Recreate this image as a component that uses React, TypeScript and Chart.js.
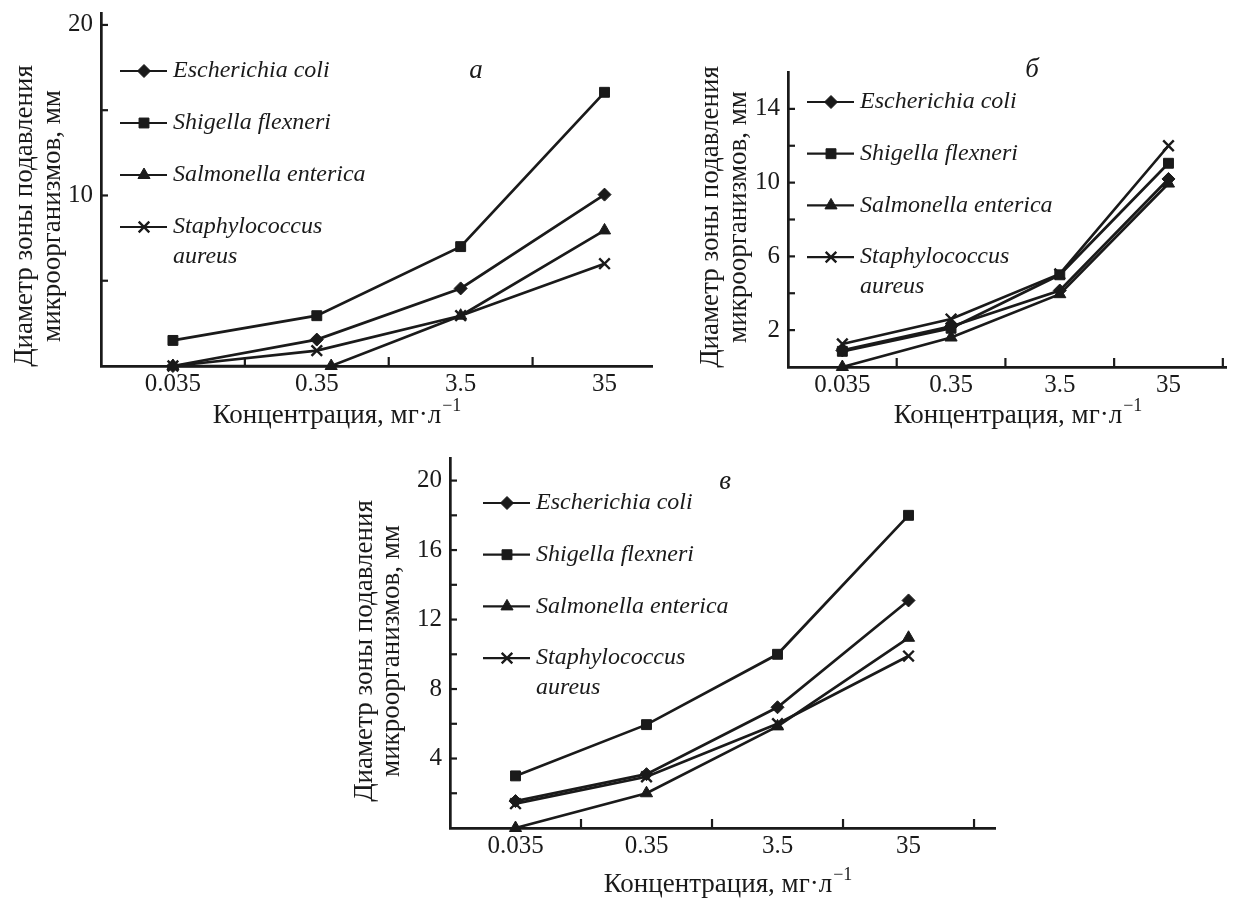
import React, { useEffect, useRef } from "react";
import { Chart, registerables } from "chart.js";
import { drawPoint } from "chart.js/helpers";

Chart.register(...registerables);

// ---------- data ----------
const categories = ["0.035", "0.35", "3.5", "35"];
const categoryPos = [0, 1, 2, 3];
const seriesNames = ["Escherichia coli", "Shigella flexneri", "Salmonella enterica", "Staphylococcus aureus"];
const legendLines = [["Escherichia coli"], ["Shigella flexneri"], ["Salmonella enterica"], ["Staphylococcus", "aureus"]];
const pointStyles = ["rectRot", "rect", "triangle", "crossRot"];

// panel а
const aEcoli = [0, 1.55, 4.55, 10.05];
const aShigella = [1.5, 2.95, 7.0, 16.05];
const aSalmonella = [0, 0, 2.95, 7.95];
const aSalmonellaPos = [0, 1.1, 2, 3];
const aStaph = [0, 0.9, 2.95, 6.0];
const aYLabels = [10, 20];
const aYMinor = [5, 10, 15, 20];

// panel б
const bEcoli = [0.9, 2.2, 4.15, 10.2];
const bShigella = [0.85, 2.1, 5.0, 11.05];
const bSalmonella = [0, 1.6, 3.95, 9.95];
const bStaph = [1.25, 2.6, 5.05, 12.0];
const bYLabels = [2, 6, 10, 14];
const bYMinor = [2, 4, 6, 8, 10, 12, 14];

// panel в
const cEcoli = [1.55, 3.1, 6.95, 13.1];
const cShigella = [3.0, 5.95, 10.0, 18.0];
const cSalmonella = [0, 2.0, 5.85, 10.95];
const cStaph = [1.4, 2.95, 6.0, 9.9];
const cYLabels = [4, 8, 12, 16, 20];
const cYMinor = [2, 4, 6, 8, 10, 12, 14, 16, 18, 20];

const xMinor = [0.5, 1.5, 2.5, 3.5];

const yTitleLines = ["Диаметр зоны подавления", "микроорганизмов, мм"];
const xTitleMain = "Концентрация, мг·л";
const xTitleSup = "−1";

// ---------- style ----------
const INK = "#1a1a1a";
const FONT = '"Liberation Serif", "Times New Roman", serif';
const pointRadii: Record<string, number> = { rectRot: 6.5, rect: 7, triangle: 7, crossRot: 7.5 };
const pointBorders: Record<string, number> = { rectRot: 1, rect: 1, triangle: 1, crossRot: 2.4 };

type Panel = {
  letter: string;
  box: { left: number; top: number; width: number; height: number };
  padTop: number;
  padRight: number;
  yAxisWidth: number;
  xAxisHeight: number;
  xMax: number;
  yMax: number;
  yLabels: number[];
  yMinor: number[];
  xMinor: number[];
  series: { values: number[]; pos: number[] }[];
  deco: any;
};

const panels: Panel[] = [
  {
    letter: "а",
    box: { left: 0, top: 0, width: 665, height: 440 },
    padTop: 13,
    padRight: 13,
    yAxisWidth: 101,
    xAxisHeight: 74,
    xMax: 3.33,
    yMax: 20.7,
    yLabels: aYLabels,
    yMinor: aYMinor,
    xMinor: xMinor.filter((v) => v < 3.33),
    series: [
      { values: aEcoli, pos: categoryPos },
      { values: aShigella, pos: categoryPos },
      { values: aSalmonella, pos: aSalmonellaPos },
      { values: aStaph, pos: categoryPos },
    ],
    deco: {
      yTitleX: [25, 53],
      yTitleY: 216,
      xTitleX: 337,
      xTitleY: 416,
      letterX: 476,
      letterY: 71,
      legendX: 120,
      legendY: 71,
      legendGap: 52,
    },
  },
  {
    letter: "б",
    box: { left: 660, top: 40, width: 576, height: 400 },
    padTop: 32,
    padRight: 3,
    yAxisWidth: 128,
    xAxisHeight: 73,
    xMax: 3.53,
    yMax: 16,
    yLabels: bYLabels,
    yMinor: bYMinor,
    xMinor: xMinor,
    series: [
      { values: bEcoli, pos: categoryPos },
      { values: bShigella, pos: categoryPos },
      { values: bSalmonella, pos: categoryPos },
      { values: bStaph, pos: categoryPos },
    ],
    deco: {
      yTitleX: [51, 79],
      yTitleY: 177,
      xTitleX: 358,
      xTitleY: 376,
      letterX: 372,
      letterY: 30,
      legendX: 147,
      legendY: 62,
      legendGap: 51.7,
    },
  },
  {
    letter: "в",
    box: { left: 330, top: 440, width: 700, height: 460 },
    padTop: 18,
    padRight: 35,
    yAxisWidth: 120,
    xAxisHeight: 72,
    xMax: 3.66,
    yMax: 21.3,
    yLabels: cYLabels,
    yMinor: cYMinor,
    xMinor: xMinor,
    series: [
      { values: cEcoli, pos: categoryPos },
      { values: cShigella, pos: categoryPos },
      { values: cSalmonella, pos: categoryPos },
      { values: cStaph, pos: categoryPos },
    ],
    deco: {
      yTitleX: [35, 62],
      yTitleY: 211,
      xTitleX: 398,
      xTitleY: 445,
      letterX: 395,
      letterY: 42,
      legendX: 153,
      legendY: 63,
      legendGap: 51.7,
    },
  },
];

const decorPlugin = {
  id: "figureDecor",
  afterDraw(chart: any, _args: any, opts: any) {
    const ctx: CanvasRenderingContext2D = chart.ctx;
    const area = chart.chartArea;
    const xs = chart.scales.x;
    const ys = chart.scales.y;
    ctx.save();
    ctx.strokeStyle = INK;
    ctx.fillStyle = INK;
    // inward tick marks
    ctx.lineWidth = 2.2;
    for (const v of opts.xMinor) {
      const px = xs.getPixelForValue(v);
      ctx.beginPath();
      ctx.moveTo(px, area.bottom);
      ctx.lineTo(px, area.bottom - 9);
      ctx.stroke();
    }
    for (const v of opts.yMinor) {
      const py = ys.getPixelForValue(v);
      ctx.beginPath();
      ctx.moveTo(area.left, py);
      ctx.lineTo(area.left + 7, py);
      ctx.stroke();
    }
    // y title
    ctx.font = `27px ${FONT}`;
    ctx.textAlign = "center";
    ctx.textBaseline = "middle";
    yTitleLines.forEach((line, i) => {
      ctx.save();
      ctx.translate(opts.yTitleX[i], opts.yTitleY);
      ctx.rotate(-Math.PI / 2);
      ctx.fillText(line, 0, 0);
      ctx.restore();
    });
    // x title with superscript
    ctx.font = `27px ${FONT}`;
    const mainW = ctx.measureText(xTitleMain).width;
    ctx.font = `18px ${FONT}`;
    const supW = ctx.measureText(xTitleSup).width;
    const start = opts.xTitleX - (mainW + supW + 1) / 2;
    ctx.textAlign = "left";
    ctx.font = `27px ${FONT}`;
    ctx.fillText(xTitleMain, start, opts.xTitleY);
    ctx.font = `18px ${FONT}`;
    ctx.fillText(xTitleSup, start + mainW + 1, opts.xTitleY - 10);
    // panel letter
    ctx.font = `italic 27px ${FONT}`;
    ctx.textAlign = "center";
    ctx.fillText(opts.letter, opts.letterX, opts.letterY);
    // legend
    chart.data.datasets.forEach((ds: any, i: number) => {
      const y = opts.legendY + i * opts.legendGap;
      const x0 = opts.legendX;
      ctx.lineWidth = 2.2;
      ctx.beginPath();
      ctx.moveTo(x0, y);
      ctx.lineTo(x0 + 47, y);
      ctx.stroke();
      ctx.lineWidth = ds.pointBorderWidth;
      drawPoint(ctx, { pointStyle: ds.pointStyle, radius: ds.pointRadius, borderWidth: ds.pointBorderWidth, rotation: 0 } as any, x0 + 24, y);
      ctx.font = `italic 24px ${FONT}`;
      ctx.textAlign = "left";
      ctx.textBaseline = "middle";
      legendLines[i].forEach((t, j) => ctx.fillText(t, x0 + 53, y + j * 30));
    });
    ctx.restore();
  },
};

function PanelChart({ panel }: { panel: Panel }) {
  const ref = useRef<HTMLCanvasElement>(null);
  useEffect(() => {
    if (!ref.current) return;
    const datasets = panel.series.map((s, i) => ({
      label: seriesNames[i],
      data: s.values.map((v, k) => ({ x: s.pos[k], y: v })),
      borderColor: INK,
      backgroundColor: INK,
      borderWidth: 2.7,
      pointStyle: pointStyles[i],
      pointRadius: pointRadii[pointStyles[i]],
      pointBorderWidth: pointBorders[pointStyles[i]],
      pointBackgroundColor: INK,
      pointBorderColor: INK,
      tension: 0,
      clip: false,
    }));
    const tickFont = { family: FONT, size: 25 };
    const chart = new Chart(ref.current, {
      type: "line",
      data: { datasets },
      plugins: [decorPlugin],
      options: {
        animation: false,
        responsive: false,
        events: [],
        layout: { padding: { top: panel.padTop, right: panel.padRight, left: 0, bottom: 0 } },
        plugins: {
          legend: { display: false },
          tooltip: { enabled: false },
          figureDecor: { ...panel.deco, letter: panel.letter, xMinor: panel.xMinor, yMinor: panel.yMinor },
        } as any,
        scales: {
          x: {
            type: "linear",
            min: -0.5,
            max: panel.xMax,
            grid: { display: false, drawTicks: false },
            border: { display: true, color: INK, width: 2.7 },
            ticks: {
              font: tickFont,
              color: INK,
              padding: 3,
              autoSkip: false,
              maxRotation: 0,
              callback: (_v: any, idx: number) => categories[idx],
            },
            afterBuildTicks: (s: any) => {
              s.ticks = categoryPos.map((v) => ({ value: v }));
            },
            afterFit: (s: any) => {
              s.height = panel.xAxisHeight;
              s.paddingLeft = 0;
              s.paddingRight = 0;
            },
          },
          y: {
            type: "linear",
            min: 0,
            max: panel.yMax,
            grid: { display: false, drawTicks: false },
            border: { display: true, color: INK, width: 2.7 },
            ticks: {
              font: tickFont,
              color: INK,
              padding: 8,
              autoSkip: false,
            },
            afterBuildTicks: (s: any) => {
              s.ticks = panel.yLabels.map((v) => ({ value: v }));
            },
            afterFit: (s: any) => {
              s.width = panel.yAxisWidth;
              s.paddingTop = 0;
              s.paddingBottom = 0;
            },
          },
        },
      } as any,
    });
    return () => chart.destroy();
  }, [panel]);
  return (
    <canvas
      ref={ref}
      width={panel.box.width}
      height={panel.box.height}
      style={{
        position: "absolute",
        left: panel.box.left,
        top: panel.box.top,
        width: panel.box.width,
        height: panel.box.height,
      }}
    />
  );
}

export default function App() {
  return (
    <div style={{ position: "absolute", left: 0, top: 0, width: 1236, height: 900, background: "#fff", overflow: "hidden" }}>
      {panels.map((p, i) => (
        <PanelChart key={i} panel={p} />
      ))}
    </div>
  );
}
